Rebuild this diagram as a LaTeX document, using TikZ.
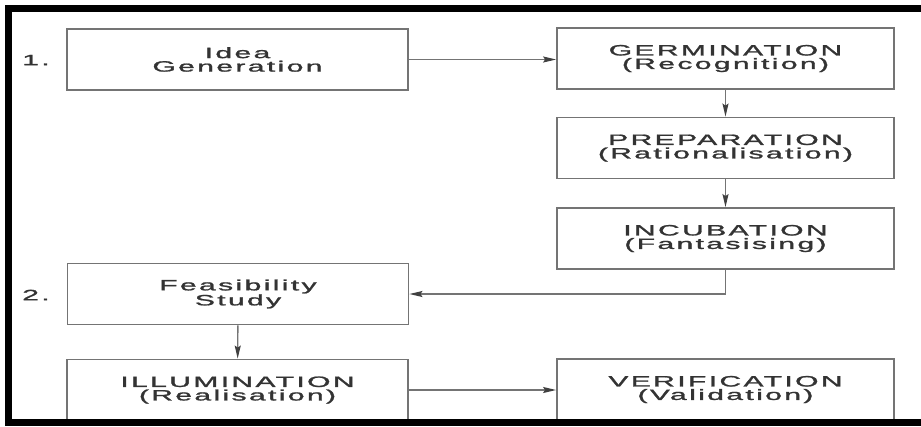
\documentclass[tikz,border=0pt]{standalone}
\usepackage{graphicx}
\usepackage{fontspec}
\setmainfont{Liberation Sans}
\newfontfamily\stagefont[LetterSpace=8,FakeBold=1.2]{Liberation Sans}
\usetikzlibrary{arrows.meta}
\definecolor{ink}{HTML}{333333}
\definecolor{edge}{HTML}{747474}
\definecolor{tip}{HTML}{404040}
% horizontally extended lettering used in the boxes
\newcommand\wide[1]{\scalebox{2.0}[1]{#1}}

\begin{document}
\begin{tikzpicture}[x=1pt,y=-1pt,
  stage/.style={draw=edge, line width=1.8pt, inner sep=0pt, align=center,
    text=ink, font={\stagefont\fontsize{15pt}{13.5pt}\selectfont}},
  leftbox/.style={stage, minimum width=341pt, minimum height=61pt},
  rightbox/.style={stage, minimum width=337pt, minimum height=61pt},
  conn/.style={draw=edge, line width=1.4pt,
    -{Stealth[length=13pt,width=6pt,inset=2pt,fill=tip,color=tip]}},
  numlabel/.style={text=ink, font={\stagefont\fontsize{15pt}{13.5pt}\selectfont}},
  frame/.style={line width=7.5pt, draw=black}]

\useasboundingbox (0,0) rectangle (921,426);
\fill[white] (0,0) rectangle (921,426);

% left column
\node[leftbox] (idea) at (237.5,59.5) {\wide{Idea}\\\wide{Generation}};
\node[leftbox] (feas) at (238,294) {\wide{Feasibility}\\\wide{Study}};
\node[leftbox] (illum) at (237.5,390) {\wide{ILLUMINATION}\\\wide{(Realisation)}};

% right column
\node[rightbox] (germ) at (725.5,58.5) {\wide{GERMINATION}\\\wide{(Recognition)}};
\node[rightbox] (prep) at (725.5,148) {\wide{PREPARATION}\\\wide{(Rationalisation)}};
\node[rightbox] (incub) at (725.5,238.5) {\wide{INCUBATION}\\\wide{(Fantasising)}};
\node[rightbox] (verif) at (725.5,389.5) {\wide{VERIFICATION}\\\wide{(Validation)}};

% step numbers
\node[numlabel] (n1) at (36,60) {\wide{1.}};
\node[numlabel] (n2) at (36,295) {\wide{2.}};

% connectors
\draw[conn] (idea.east) -- (idea.east -| germ.west);
\draw[conn] (germ) -- (prep);
\draw[conn] (prep) -- (incub);
\draw[conn] (incub.south) |- (feas.east);
\draw[conn] (feas) -- (illum);
\draw[conn] (illum.east) -- (illum.east -| verif.west);

% outer frame, open on the right
\draw[frame] (921,8.5) -- (8.5,8.5) -- (8.5,422.5) -- (921,422.5);
\end{tikzpicture}
\end{document}
